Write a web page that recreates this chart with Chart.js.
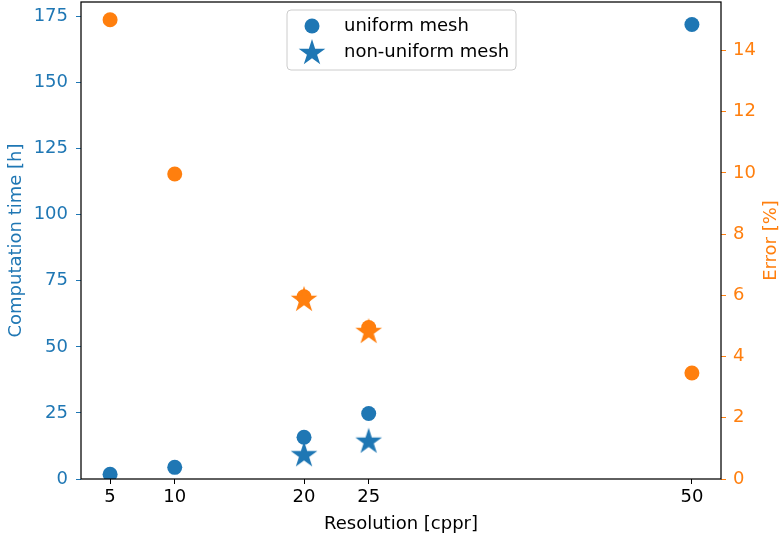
<!DOCTYPE html>
<html>
<head>
<meta charset="utf-8">
<script src="https://cdn.jsdelivr.net/npm/chart.js@4/dist/chart.umd.min.js"></script>
<style>
  html, body { margin: 0; padding: 0; background: #fff; }
  #wrap { width: 782px; height: 537px; }
</style>
</head>
<body>
<div id="wrap"><canvas id="chart" width="782" height="537"></canvas></div>
<script>
// resolution values (cppr)
const resolution = [5, 10, 20, 25, 50];
const nonUniformRes = [20, 25];

// computation time [h]
const uniformTime = [1.8, 4.4, 15.8, 24.8, 172];
const nonUniformTime = [9.0, 14.1];

// error [%]
const uniformError = [15.0, 9.96, 5.95, 4.95, 3.46];
const nonUniformError = [5.85, 4.8];

// tick labels
const xTicks = [5, 10, 20, 25, 50];
const timeTicks = [0, 25, 50, 75, 100, 125, 150, 175];
const errorTicks = [0, 2, 4, 6, 8, 10, 12, 14];

const legendLabels = ["uniform mesh", "non-uniform mesh"];
const errorTitle = "Error [%]";

const BLUE = "#1f77b4";
const ORANGE = "#ff7f0e";
const FONT = "DejaVu Sans";
const FSIZE = 18;

function starPath(ctx, cx, cy, r) {
    let inner = r * 0.382;
    ctx.beginPath();
    for (let i = 0; i < 10; i++) {
        let rad = i % 2 == 0 ? r : inner;
        let a = -Math.PI / 2 + i * Math.PI / 5;
        let x = cx + rad * Math.cos(a);
        let y = cy + rad * Math.sin(a);
        if (i == 0) ctx.moveTo(x, y); else ctx.lineTo(x, y);
    }
    ctx.closePath();
}

function makeStar(color, r) {
    let c = document.createElement("canvas");
    let s = Math.ceil(2 * r + 2);
    c.width = s;
    c.height = s;
    let g = c.getContext("2d");
    g.fillStyle = color;
    starPath(g, s / 2, s / 2, r);
    g.fill();
    return c;
}

const blueStar = makeStar(BLUE, 14);
const orangeStar = makeStar(ORANGE, 14);

function toPoints(xs, ys) {
    return xs.map((x, i) => ({ x: x, y: ys[i] }));
}

// no extra padding for tick labels, chart area fixed by the axis sizes
function noPad(s) {
    s.paddingTop = 0;
    s.paddingBottom = 0;
    s.paddingLeft = 0;
    s.paddingRight = 0;
}

const framePlugin = {
    id: "frame",
    afterDraw(chart) {
        let ctx = chart.ctx;
        let a = chart.chartArea;
        ctx.save();
        ctx.strokeStyle = "#000";
        ctx.lineWidth = 1.25;
        ctx.strokeRect(a.left, a.top, a.right - a.left, a.bottom - a.top);

        // right axis title, reads bottom to top like matplotlib
        ctx.save();
        ctx.translate(771, (a.top + a.bottom) / 2);
        ctx.rotate(-Math.PI / 2);
        ctx.fillStyle = ORANGE;
        ctx.font = FSIZE + "px '" + FONT + "'";
        ctx.textAlign = "center";
        ctx.textBaseline = "middle";
        ctx.fillText(errorTitle, 0, 0);
        ctx.restore();

        // legend box
        let bx = 287, by = 10, bw = 229, bh = 60, br = 4;
        ctx.beginPath();
        ctx.roundRect(bx, by, bw, bh, br);
        ctx.fillStyle = "rgba(255,255,255,0.8)";
        ctx.fill();
        ctx.strokeStyle = "#cccccc";
        ctx.lineWidth = 1;
        ctx.stroke();

        ctx.fillStyle = BLUE;
        ctx.beginPath();
        ctx.arc(312, 26, 7.5, 0, Math.PI * 2);
        ctx.fill();
        starPath(ctx, 312, 53, 14);
        ctx.fill();

        ctx.fillStyle = "#000";
        ctx.font = FSIZE + "px '" + FONT + "'";
        ctx.textBaseline = "middle";
        ctx.textAlign = "left";
        ctx.fillText(legendLabels[0], 344, 26);
        ctx.fillText(legendLabels[1], 344, 52);
        ctx.restore();
    }
};

let ctx = document.getElementById("chart").getContext("2d");

new Chart(ctx, {
    type: "scatter",
    data: {
        datasets: [
            {
                label: legendLabels[0],
                data: toPoints(resolution, uniformTime),
                yAxisID: "y",
                pointStyle: "circle",
                pointRadius: 7.5,
                backgroundColor: BLUE,
                borderWidth: 0,
                order: 4
            },
            {
                label: legendLabels[1],
                data: toPoints(nonUniformRes, nonUniformTime),
                yAxisID: "y",
                pointStyle: blueStar,
                pointRadius: 14,
                backgroundColor: BLUE,
                borderWidth: 0,
                order: 3
            },
            {
                label: legendLabels[0] + " error",
                data: toPoints(resolution, uniformError),
                yAxisID: "y1",
                pointStyle: "circle",
                pointRadius: 7.5,
                backgroundColor: ORANGE,
                borderWidth: 0,
                order: 2
            },
            {
                label: legendLabels[1] + " error",
                data: toPoints(nonUniformRes, nonUniformError),
                yAxisID: "y1",
                pointStyle: orangeStar,
                pointRadius: 14,
                backgroundColor: ORANGE,
                borderWidth: 0,
                order: 1
            }
        ]
    },
    options: {
        responsive: false,
        animation: false,
        layout: { autoPadding: false, padding: { top: 2, left: 0, right: 0, bottom: 0 } },
        plugins: {
            legend: { display: false },
            tooltip: { enabled: false }
        },
        scales: {
            x: {
                type: "linear",
                min: 2.75,
                max: 52.25,
                afterBuildTicks: s => { s.ticks = xTicks.map(v => ({ value: v })); },
                afterFit: s => { s.height = 58; noPad(s); },
                grid: { drawOnChartArea: false, tickLength: 5, tickColor: "#000", tickWidth: 1 },
                border: { display: false },
                ticks: { color: "#000", padding: 3, font: { family: FONT, size: FSIZE }, maxRotation: 0 },
                title: { display: true, text: "Resolution [cppr]", color: "#000", padding: { top: 0, bottom: 2 }, font: { family: FONT, size: FSIZE } }
            },
            y: {
                type: "linear",
                position: "left",
                min: 0,
                max: 180.5,
                afterBuildTicks: s => { s.ticks = timeTicks.map(v => ({ value: v })); },
                afterFit: s => { s.width = 81; noPad(s); },
                grid: { drawOnChartArea: false, tickLength: 5, tickColor: BLUE, tickWidth: 1 },
                border: { display: false },
                ticks: { color: BLUE, padding: 8, font: { family: FONT, size: FSIZE } },
                title: { display: true, text: "Computation time [h]", color: BLUE, padding: { top: 6, bottom: 0 }, font: { family: FONT, size: FSIZE } }
            },
            y1: {
                type: "linear",
                position: "right",
                min: 0,
                max: 15.58,
                afterBuildTicks: s => { s.ticks = errorTicks.map(v => ({ value: v })); },
                afterFit: s => { s.width = 61; noPad(s); },
                grid: { drawOnChartArea: false, tickLength: 5, tickColor: ORANGE, tickWidth: 1 },
                border: { display: false },
                ticks: { color: ORANGE, padding: 7, font: { family: FONT, size: FSIZE } }
            }
        }
    },
    plugins: [framePlugin]
});
</script>
</body>
</html>
